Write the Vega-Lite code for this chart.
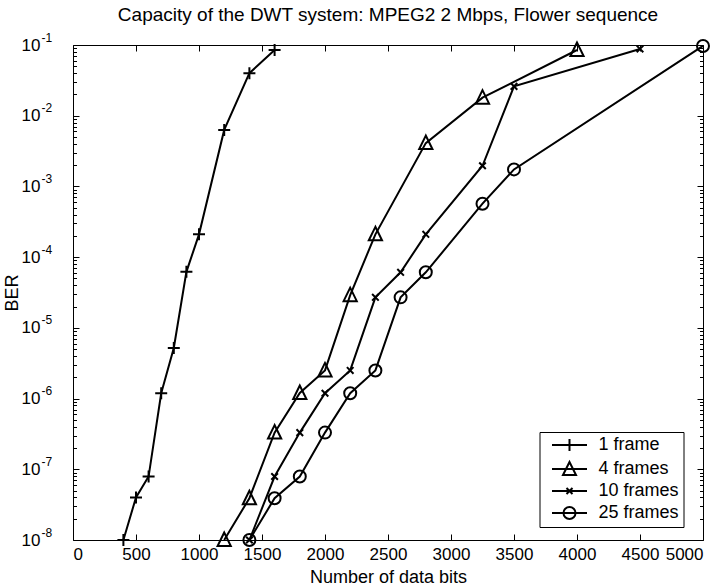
{
  "$schema": "https://vega.github.io/schema/vega-lite/v6.json",
  "width": 630,
  "height": 495,
  "autosize": "none",
  "padding": {"left": 73, "top": 45, "right": 19, "bottom": 48},
  "background": "white",
  "title": {"text": "Capacity of the DWT system: MPEG2 2 Mbps, Flower sequence", "font": "Liberation Sans", "fontSize": 19, "fontWeight": "normal", "color": "black", "offset": 6},
  "config": {
    "view": {"stroke": null},
    "font": "Liberation Sans",
    "axis": {"domainColor": "black", "tickColor": "black", "labelColor": "black", "titleColor": "black", "grid": false, "labelFont": "Liberation Sans", "titleFont": "Liberation Sans", "titleFontWeight": "normal", "domainWidth": 1, "tickWidth": 1}
  },
  "data": {"values": [
    {"series": "1 frame", "bits": 400, "ber": 1e-8},
    {"series": "1 frame", "bits": 500, "ber": 4e-8},
    {"series": "1 frame", "bits": 600, "ber": 7.9e-8},
    {"series": "1 frame", "bits": 700, "ber": 1.19e-6},
    {"series": "1 frame", "bits": 800, "ber": 5.2e-6},
    {"series": "1 frame", "bits": 900, "ber": 6.2e-5},
    {"series": "1 frame", "bits": 1000, "ber": 2.1e-4},
    {"series": "1 frame", "bits": 1200, "ber": 6.3e-3},
    {"series": "1 frame", "bits": 1400, "ber": 4e-2},
    {"series": "1 frame", "bits": 1600, "ber": 8.5e-2},
    {"series": "4 frames", "bits": 1200, "ber": 1e-8},
    {"series": "4 frames", "bits": 1400, "ber": 3.9e-8},
    {"series": "4 frames", "bits": 1600, "ber": 3.3e-7},
    {"series": "4 frames", "bits": 1800, "ber": 1.2e-6},
    {"series": "4 frames", "bits": 2000, "ber": 2.5e-6},
    {"series": "4 frames", "bits": 2200, "ber": 2.9e-5},
    {"series": "4 frames", "bits": 2400, "ber": 2.1e-4},
    {"series": "4 frames", "bits": 2800, "ber": 4.1e-3},
    {"series": "4 frames", "bits": 3250, "ber": 1.8e-2},
    {"series": "4 frames", "bits": 4000, "ber": 8.5e-2},
    {"series": "10 frames", "bits": 1400, "ber": 1e-8},
    {"series": "10 frames", "bits": 1600, "ber": 7.9e-8},
    {"series": "10 frames", "bits": 1800, "ber": 3.3e-7},
    {"series": "10 frames", "bits": 2000, "ber": 1.19e-6},
    {"series": "10 frames", "bits": 2200, "ber": 2.5e-6},
    {"series": "10 frames", "bits": 2400, "ber": 2.7e-5},
    {"series": "10 frames", "bits": 2600, "ber": 6.1e-5},
    {"series": "10 frames", "bits": 2800, "ber": 2.1e-4},
    {"series": "10 frames", "bits": 3250, "ber": 1.96e-3},
    {"series": "10 frames", "bits": 3500, "ber": 2.6e-2},
    {"series": "10 frames", "bits": 4500, "ber": 8.8e-2},
    {"series": "25 frames", "bits": 1400, "ber": 1e-8},
    {"series": "25 frames", "bits": 1600, "ber": 3.9e-8},
    {"series": "25 frames", "bits": 1800, "ber": 7.9e-8},
    {"series": "25 frames", "bits": 2000, "ber": 3.3e-7},
    {"series": "25 frames", "bits": 2200, "ber": 1.19e-6},
    {"series": "25 frames", "bits": 2400, "ber": 2.5e-6},
    {"series": "25 frames", "bits": 2600, "ber": 2.7e-5},
    {"series": "25 frames", "bits": 2800, "ber": 6.1e-5},
    {"series": "25 frames", "bits": 3250, "ber": 5.7e-4},
    {"series": "25 frames", "bits": 3500, "ber": 1.74e-3},
    {"series": "25 frames", "bits": 5000, "ber": 0.097}
  ]},
  "layer": [
    {
      "mark": {"type": "line", "color": "black", "strokeWidth": 2, "clip": false},
      "encoding": {
        "x": {"field": "bits", "type": "quantitative", "scale": {"domain": [0, 5000], "nice": false, "zero": false},
          "axis": {"orient": "bottom", "values": [0, 500, 1000, 1500, 2000, 2500, 3000, 3500, 4000, 4500, 5000], "format": "d", "ticks": false, "tickSize": 0, "labelPadding": 6, "labelFontSize": 17, "title": "Number of data bits", "titleFontSize": 18, "titlePadding": 6}},
        "y": {"field": "ber", "type": "quantitative", "scale": {"type": "log", "domain": [1e-8, 0.1], "nice": false},
          "axis": {"orient": "left", "values": [1e-8, 1e-7, 1e-6, 1e-5, 1e-4, 0.001, 0.01, 0.1],
            "labelExpr": "'10'", "ticks": false, "tickSize": 0,
            "labelPadding": 33, "labelFontSize": 17, "title": "BER", "titleFontSize": 18, "titlePadding": 0}},
        "detail": {"field": "series"}
      }
    },
    {
      "mark": {"type": "point", "filled": false, "color": "black", "strokeWidth": 2, "size": 144, "opacity": 1, "clip": false},
      "encoding": {
        "x": {"field": "bits", "type": "quantitative",
          "axis": {"orient": "top", "labels": false, "ticks": false, "tickSize": 0, "title": null}},
        "y": {"field": "ber", "type": "quantitative",
          "axis": {"orient": "right", "labels": false, "ticks": false, "tickSize": 0, "title": null}},
        "shape": {"field": "series", "type": "nominal",
          "scale": {"domain": ["1 frame", "4 frames", "10 frames", "25 frames"],
            "range": ["M-1,0H1M0,-1V1", "M0,-1.25L-1.1,1L1.1,1Z", "M-0.55,-0.55L0.55,0.55M-0.55,0.55L0.55,-0.55", "circle"]},
          "legend": null}
      }
    },
    {
      "mark": {"type": "point", "opacity": 0},
      "encoding": {
        "x": {"field": "bits", "type": "quantitative",
          "axis": {"orient": "top", "offset": -495, "values": [0, 500, 1000, 1500, 2000, 2500, 3000, 3500, 4000, 4500, 5000], "labels": false, "domain": false, "tickSize": 6, "title": null}},
        "y": {"field": "ber", "type": "quantitative",
          "axis": {"orient": "left", "values": [1e-8, 1e-7, 1e-6, 1e-5, 1e-4, 0.001, 0.01, 0.1], "ticks": false, "tickSize": 0, "domain": false, "title": null,
            "labelExpr": "'-' + round(-log(datum.value)/LN10)", "labelAlign": "left", "labelFontSize": 12, "labelPadding": 32, "labelOffset": -8}}
      }
    },
    {
      "mark": {"type": "point", "opacity": 0},
      "encoding": {
        "x": {"field": "bits", "type": "quantitative",
          "axis": {"orient": "bottom", "offset": -495, "values": [0, 500, 1000, 1500, 2000, 2500, 3000, 3500, 4000, 4500, 5000], "labels": false, "domain": false, "tickSize": 6, "title": null}},
        "y": {"field": "ber", "type": "quantitative",
          "axis": {"orient": "right", "offset": -630, "labels": false, "domain": false, "title": null,
            "values": [1e-8, 2e-8, 3e-8, 4e-8, 5e-8, 6e-8, 7e-8, 8e-8, 9e-8, 1e-7, 2e-7, 3e-7, 4e-7, 5e-7, 6e-7, 7e-7, 8e-7, 9e-7, 1e-6, 2e-6, 3e-6, 4e-6, 5e-6, 6e-6, 7e-6, 8e-6, 9e-6, 1e-5, 2e-5, 3e-5, 4e-5, 5e-5, 6e-5, 7e-5, 8e-5, 9e-5, 1e-4, 2e-4, 3e-4, 4e-4, 5e-4, 6e-4, 7e-4, 8e-4, 9e-4, 0.001, 0.002, 0.003, 0.004, 0.005, 0.006, 0.007, 0.008, 0.009, 0.01, 0.02, 0.03, 0.04, 0.05, 0.06, 0.07, 0.08, 0.09, 0.1],
            "tickSize": {"condition": {"test": "abs(log(datum.value)/LN10 - round(log(datum.value)/LN10)) < 0.000001", "value": 6}, "value": 3.5}}}
      }
    },
    {
      "mark": {"type": "point", "opacity": 0, "filled": false},
      "encoding": {
        "x": {"field": "bits", "type": "quantitative", "axis": null},
        "y": {"field": "ber", "type": "quantitative",
          "axis": {"orient": "left", "offset": -630, "labels": false, "domain": false, "title": null,
            "values": [1e-8, 2e-8, 3e-8, 4e-8, 5e-8, 6e-8, 7e-8, 8e-8, 9e-8, 1e-7, 2e-7, 3e-7, 4e-7, 5e-7, 6e-7, 7e-7, 8e-7, 9e-7, 1e-6, 2e-6, 3e-6, 4e-6, 5e-6, 6e-6, 7e-6, 8e-6, 9e-6, 1e-5, 2e-5, 3e-5, 4e-5, 5e-5, 6e-5, 7e-5, 8e-5, 9e-5, 1e-4, 2e-4, 3e-4, 4e-4, 5e-4, 6e-4, 7e-4, 8e-4, 9e-4, 0.001, 0.002, 0.003, 0.004, 0.005, 0.006, 0.007, 0.008, 0.009, 0.01, 0.02, 0.03, 0.04, 0.05, 0.06, 0.07, 0.08, 0.09, 0.1],
            "tickSize": {"condition": {"test": "abs(log(datum.value)/LN10 - round(log(datum.value)/LN10)) < 0.000001", "value": 6}, "value": 3.5}}},
        "shape": {"field": "series", "type": "nominal",
          "scale": {"domain": ["1 frame", "4 frames", "10 frames", "25 frames"],
            "range": ["M-3.5,0H3.5M-1.2,0H1.2M0,-1.2V1.2", "M-3.5,0H3.5M0,-1.4L-1.3,1.2L1.3,1.2Z", "M-3.5,0H3.5M-0.6,-0.6L0.6,0.6M-0.6,0.6L0.6,-0.6", "M-3.5,0H3.5M1.2,0A1.2,1.2,0,1,1,-1.2,0A1.2,1.2,0,1,1,1.2,0"]},
          "legend": {"orient": "none", "legendX": 466.5, "legendY": 387, "title": null,
            "fillColor": "white", "strokeColor": "black", "padding": 4,
            "symbolSize": 100, "symbolOffset": 17, "labelOffset": 20, "rowPadding": 3,
            "labelFontSize": 18, "labelFont": "Liberation Sans", "labelColor": "black",
            "symbolStrokeColor": "black", "symbolFillColor": "transparent", "symbolStrokeWidth": 2, "symbolOpacity": 1,
            "labelExpr": "datum.label + '\u00a0\u00a0\u00a0\u00a0\u00a0'"}}
      }
    }
  ],
  "resolve": {"axis": {"x": "independent", "y": "independent"}, "scale": {"shape": "independent"}}
}
